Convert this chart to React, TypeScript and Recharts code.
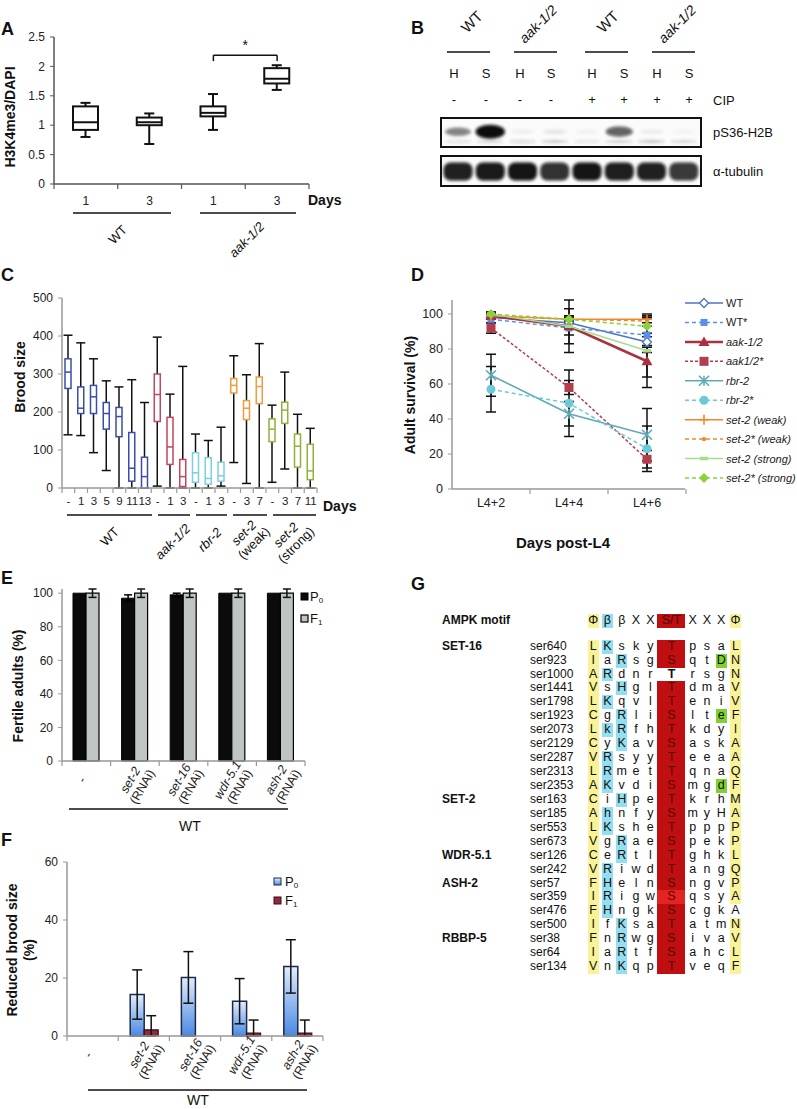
import React from "react";
import { ComposedChart, BarChart, LineChart, Bar, Line, XAxis, YAxis, ErrorBar, ReferenceLine } from "recharts";

const FONT = "'Liberation Sans', Arial, Helvetica, sans-serif";

// ---------- A: H3K4me3/DAPI ----------
const aDays = ["1", "3", "1", "3"];
const aMin = [0.8, 0.68, 0.92, 1.6];
const aQ1 = [0.92, 1.0, 1.15, 1.71];
const aMed = [1.05, 1.05, 1.21, 1.79];
const aQ3 = [1.32, 1.13, 1.32, 1.97];
const aMax = [1.38, 1.2, 1.53, 2.02];
const aTicks = [0, 0.5, 1, 1.5, 2, 2.5];

// ---------- B: western blot ----------
const bLanes = ["H", "S", "H", "S", "H", "S", "H", "S"];
const bCip = ["-", "-", "-", "-", "+", "+", "+", "+"];
const bH2B = [0.45, 1.0, 0.05, 0.08, 0.04, 0.62, 0.06, 0.03];
const bH2BLow = [0.12, 0.2, 0.18, 0.25, 0.1, 0.22, 0.28, 0.2];
const bTub = [0.92, 0.95, 0.97, 0.85, 0.97, 0.93, 0.92, 0.82];

// ---------- C: brood size ----------
const cDays = ["-", "1", "3", "5", "9", "11", "13", "-", "1", "3", "-", "1", "3", "-", "3", "7", "-", "3", "7", "11"];
const cGroupOf = [0, 0, 0, 0, 0, 0, 0, 1, 1, 1, 2, 2, 2, 3, 3, 3, 4, 4, 4, 4];
const cMin = [140, 138, 93, 46, 0, 0, 0, 5, 0, 0, 0, 0, 5, 67, 12, 0, 15, 50, 0, 0];
const cQ1 = [262, 196, 196, 155, 135, 18, 0, 175, 62, 4, 15, 10, 18, 250, 180, 222, 122, 170, 55, 22];
const cMed = [305, 210, 240, 196, 188, 52, 30, 246, 108, 30, 40, 25, 32, 270, 210, 267, 155, 205, 110, 45];
const cQ3 = [340, 266, 270, 225, 212, 146, 81, 300, 186, 75, 93, 80, 68, 288, 230, 292, 182, 226, 142, 115];
const cMax = [402, 382, 340, 282, 266, 285, 225, 397, 247, 320, 142, 125, 160, 348, 298, 380, 218, 305, 194, 157];
const cTicks = [0, 100, 200, 300, 400, 500];
const cGroupColors = ["#3b4da8", "#c4465a", "#7ccfdc", "#f39a3c", "#8db33b"];

// ---------- D: adult survival ----------
const dDays = ["L4+2", "L4+4", "L4+6"];
const dWT = [98, 95, 84];
const dWTErr = [1, 3, 3];
const dWTs = [97, 92, 88];
const dWTsErr = [2, 4, 10];
const dAak = [99, 93, 73];
const dAakErr = [2, 10, 9];
const dAaks = [92, 58, 17];
const dAaksErr = [3, 4, 5];
const dRbr = [65, 43, 31];
const dRbrErr = [12, 7, 15];
const dRbrs = [57, 49, 23];
const dRbrsErr = [13, 19, 13];
const dSetW = [99, 97, 97];
const dSetWErr = [1, 2, 2];
const dSetWs = [99, 97, 96];
const dSetWsErr = [1, 2, 3];
const dSetS = [100, 93, 79];
const dSetSErr = [1, 15, 21];
const dSetSs = [100, 97, 93];
const dSetSsErr = [1, 2, 4];
const dTicks = [0, 20, 40, 60, 80, 100];

// ---------- E: fertile adults ----------
const eCats = ["-", "set-2", "set-16", "wdr-5.1", "ash-2"];
const eP0 = [100, 97, 99, 100, 100];
const eP0Err = [0, 2, 1, 0, 0];
const eF1 = [100, 100, 100, 100, 100];
const eF1Err = [2.5, 2.5, 2.5, 2.5, 2.5];
const eTicks = [0, 20, 40, 60, 80, 100];

// ---------- F: reduced brood size ----------
const fCats = ["-", "set-2", "set-16", "wdr-5.1", "ash-2"];
const fP0 = [0, 14.3, 20.2, 12.0, 24.0];
const fP0Err = [3.5, 8.5, 8.9, 7.8, 9.2];
const fF1 = [0, 2.1, 0, 1.0, 1.0];
const fF1Err = [3.5, 4.9, 3.5, 4.5, 4.5];
const fTicks = [0, 20, 40, 60];

// ---------- G: AMPK motif alignment ----------
const gMotif = ["Φ", "β", "β", "X", "X", "S/T", "X", "X", "X", "Φ"];
const gSites = ["ser640", "ser923", "ser1000", "ser1441", "ser1798", "ser1923", "ser2073", "ser2129", "ser2287", "ser2313", "ser2353", "ser163", "ser185", "ser553", "ser673", "ser126", "ser242", "ser57", "ser359", "ser476", "ser500", "ser38", "ser64", "ser134"];
const gSeqs = ["LKskyTpsaL", "IaRsgSqtDN", "ARdnrTrsgN", "VsHglTdmaV", "LKqvlTeniV", "CgRliSlteF", "LkRfhTkdyI", "CyKavSaskA", "VRsyyTeeaA", "LRmetTqnaQ", "AKvdiSmgdF", "CiHpeTkrhM", "AhnfySmyHA", "LKsheTpppP", "VgRaeSpekP", "CeRtlTghkL", "VRiwdTangQ", "FHelnSngvP", "IRigwSqsyA", "FHngkScgkA", "IfKsaTatmN", "FnRwgSivaV", "IaRtfSahcL", "VnKqpTveqF"];
const gProteins = ["SET-16", "SET-2", "WDR-5.1", "ASH-2", "RBBP-5"];
const gProteinRow = [0, 11, 15, 17, 21];
const gGreenRows = [1, 5, 10];
const gNoSiteRows = [2];
const gBrightRows = [18];
const gNoEndRows = [19];

const AX = "#999";
const TXT = "#222";

function BoxMark(props: any) {
  const { x, y, width, height, payload, boxColor, whiskerColor, capW, lw } = props;
  if (typeof y !== "number" || typeof height !== "number" || !payload) return <g />;
  const top = Math.min(y, y + height);
  const h = Math.abs(height);
  const span = payload.max - payload.min || 1;
  const py = (v: number) => top + ((payload.max - v) / span) * h;
  const cx = x + width / 2;
  return (
    <g>
      <line x1={cx} x2={cx} y1={py(payload.max)} y2={py(payload.min)} stroke={whiskerColor} strokeWidth={lw} />
      <line x1={cx - capW / 2} x2={cx + capW / 2} y1={py(payload.max)} y2={py(payload.max)} stroke={whiskerColor} strokeWidth={lw} />
      <line x1={cx - capW / 2} x2={cx + capW / 2} y1={py(payload.min)} y2={py(payload.min)} stroke={whiskerColor} strokeWidth={lw} />
      <rect x={x} y={py(payload.q3)} width={width} height={Math.max(0, py(payload.q1) - py(payload.q3))} fill="#fff" stroke={boxColor} strokeWidth={lw} />
      <line x1={x} x2={x + width} y1={py(payload.med)} y2={py(payload.med)} stroke={boxColor} strokeWidth={lw} />
    </g>
  );
}

function CatTick(props: any) {
  const { x, y, payload, band, n, labels, color, dy, fontSize } = props;
  const i = payload?.index ?? props.index ?? 0;
  return (
    <g>
      <line x1={x - band / 2} x2={x - band / 2} y1={y} y2={y + 5} stroke={color} strokeWidth={1.2} />
      {i === n - 1 && <line x1={x + band / 2} x2={x + band / 2} y1={y} y2={y + 5} stroke={color} strokeWidth={1.2} />}
      <text x={x} y={y + dy} textAnchor="middle" fontSize={fontSize || 12} fill={TXT} fontFamily={FONT}>
        {labels[i]}
      </text>
    </g>
  );
}

function RnaiTick(props: any) {
  const { x, y, payload, band, n, labels } = props;
  const i = payload?.index ?? props.index ?? 0;
  const name = labels[i];
  const px = x - 1;
  const py = y + 21;
  return (
    <g>
      <line x1={x - band / 2} x2={x - band / 2} y1={y} y2={y + 5} stroke={AX} strokeWidth={1.2} />
      {i === n - 1 && <line x1={x + band / 2} x2={x + band / 2} y1={y} y2={y + 5} stroke={AX} strokeWidth={1.2} />}
      <text transform={`rotate(-60 ${px} ${py})`} x={px} y={py} textAnchor="middle" fontSize={12.5} fill={TXT} fontFamily={FONT}>
        <tspan fontStyle="italic">{name}</tspan>
        {name !== "-" && (
          <tspan x={px} dy="1.1em">
            (RNAi)
          </tspan>
        )}
      </text>
    </g>
  );
}

const yTick = { fontSize: 12, fill: TXT, fontFamily: FONT };

function PanelA() {
  const data = aDays.map((d, i) => ({ k: String(i), min: aMin[i], q1: aQ1[i], med: aMed[i], q3: aQ3[i], max: aMax[i] }));
  const band = 255 / 4;
  return (
    <div style={{ position: "absolute", left: 0, top: 0 }}>
      <ComposedChart width={320} height={215} data={data} margin={{ top: 37, right: 11, bottom: 1, left: 4 }}>
        <XAxis dataKey="k" height={30} interval={0} tickLine={false} tickSize={0} tickMargin={0} axisLine={{ stroke: "#555", strokeWidth: 1.5 }} tick={(p: any) => <CatTick {...p} band={band} n={4} labels={aDays} color="#555" dy={21} />} />
        <YAxis width={50} domain={[0, 2.5]} ticks={aTicks} interval={0} axisLine={{ stroke: "#555", strokeWidth: 1.5 }} tickLine={{ stroke: "#555" }} tickSize={4} tickMargin={5} tick={yTick} />
        <Bar dataKey={(d: any) => [d.min, d.max]} barSize={25} isAnimationActive={false} shape={(p: any) => <BoxMark {...p} boxColor="#111" whiskerColor="#111" capW={10} lw={2} />} />
        <ReferenceLine segment={[{ x: "2", y: 2.19 }, { x: "3", y: 2.19 }]} stroke="#111" strokeWidth={1.5} label={{ value: "*", position: "top", fontSize: 14, fill: "#111", fontFamily: FONT }} />
        <ReferenceLine segment={[{ x: "2", y: 2.19 }, { x: "2", y: 2.09 }]} stroke="#111" strokeWidth={1.5} />
        <ReferenceLine segment={[{ x: "3", y: 2.19 }, { x: "3", y: 2.09 }]} stroke="#111" strokeWidth={1.5} />
      </ComposedChart>
    </div>
  );
}

function blotShape(kind: "h2b" | "tub") {
  return (p: any) => {
    const cx = p.x + p.width / 2;
    const v = p.value as number;
    if (kind === "h2b") {
      const low = p.payload.low as number;
      return (
        <g filter="url(#blotBlur)">
          <ellipse cx={cx} cy={12.7} rx={p.width * (0.36 + 0.1 * v)} ry={2 + 5 * v} fill="#0a0a0a" opacity={Math.min(1, v * 1.05)} />
          <ellipse cx={cx} cy={22.5} rx={p.width * 0.42} ry={1.4} fill="#333" opacity={low} />
        </g>
      );
    }
    return (
      <g filter="url(#blotBlur)">
        <rect x={p.x + 1.5} y={5.5} width={p.width - 3} height={18} rx={7} fill="#0a0a0a" opacity={v} />
      </g>
    );
  };
}

function PanelB() {
  const h2bData = bLanes.map((l, i) => ({ k: String(i), h2b: bH2B[i], low: bH2BLow[i] }));
  const tubData = bLanes.map((l, i) => ({ k: String(i), tub: bTub[i] }));
  const box: React.CSSProperties = { position: "absolute", left: 440, width: 262, border: "2px solid #111", boxSizing: "border-box", background: "#fbfbfb" };
  return (
    <>
      <div style={{ ...box, top: 117, height: 31 }}>
        <BarChart width={258} height={27} data={h2bData} margin={{ top: 0, right: 0, bottom: 0, left: 0 }} barCategoryGap={0}>
          <XAxis dataKey="k" hide />
          <YAxis hide domain={[0, 1.2]} />
          <Bar dataKey="h2b" isAnimationActive={false} shape={blotShape("h2b")} />
        </BarChart>
      </div>
      <div style={{ ...box, top: 155, height: 32 }}>
        <BarChart width={258} height={28} data={tubData} margin={{ top: 0, right: 0, bottom: 0, left: 0 }} barCategoryGap={0}>
          <XAxis dataKey="k" hide />
          <YAxis hide domain={[0, 1.2]} />
          <Bar dataKey="tub" isAnimationActive={false} shape={blotShape("tub")} />
        </BarChart>
      </div>
    </>
  );
}

function PanelC() {
  const data = cDays.map((d, i) => ({ k: String(i), g: cGroupOf[i], min: cMin[i], q1: cQ1[i], med: cMed[i], q3: cQ3[i], max: cMax[i] }));
  const band = 255 / 20;
  return (
    <div style={{ position: "absolute", left: 0, top: 270 }}>
      <ComposedChart width={330} height={240} data={data} margin={{ top: 28, right: 13, bottom: 2, left: 2 }}>
        <XAxis dataKey="k" height={20} interval={0} tickLine={false} tickSize={0} tickMargin={0} axisLine={{ stroke: AX, strokeWidth: 1.5 }} tick={(p: any) => <CatTick {...p} band={band} n={20} labels={cDays} color={AX} dy={17} fontSize={11.5} />} />
        <YAxis width={60} domain={[0, 500]} ticks={cTicks} interval={0} axisLine={{ stroke: AX, strokeWidth: 1.5 }} tickLine={{ stroke: AX }} tickSize={4} tickMargin={5} tick={yTick} />
        <Bar dataKey={(d: any) => [d.min, d.max]} barSize={6} isAnimationActive={false} shape={(p: any) => <BoxMark {...p} boxColor={cGroupColors[p.payload?.g ?? 0]} whiskerColor="#111" capW={9} lw={1.5} />} />
      </ComposedChart>
    </div>
  );
}

const dStyles = [
  { name: "WT", vals: dWT, errs: dWTErr, color: "#4a74c9", dash: undefined, w: 1.5, mark: "diamondOpen", italic: false },
  { name: "WT*", vals: dWTs, errs: dWTsErr, color: "#5b8ee6", dash: "4 3", w: 1.5, mark: "square", italic: false },
  { name: "aak-1/2", vals: dAak, errs: dAakErr, color: "#a8323f", dash: undefined, w: 2.5, mark: "triangle", italic: true },
  { name: "aak1/2*", vals: dAaks, errs: dAaksErr, color: "#b33c4d", dash: "3 2", w: 1.5, mark: "squareBig", italic: true },
  { name: "rbr-2", vals: dRbr, errs: dRbrErr, color: "#5eaab4", dash: undefined, w: 1.5, mark: "x", italic: true },
  { name: "rbr-2*", vals: dRbrs, errs: dRbrsErr, color: "#6ccad8", dash: "4 3", w: 1.5, mark: "circle", italic: true },
  { name: "set-2 (weak)", vals: dSetW, errs: dSetWErr, color: "#f0892c", dash: undefined, w: 1.5, mark: "plus", italic: true },
  { name: "set-2* (weak)", vals: dSetWs, errs: dSetWsErr, color: "#f0892c", dash: "4 3", w: 1.5, mark: "dot", italic: true },
  { name: "set-2 (strong)", vals: dSetS, errs: dSetSErr, color: "#a9dc8e", dash: undefined, w: 1.5, mark: "dash", italic: true },
  { name: "set-2* (strong)", vals: dSetSs, errs: dSetSsErr, color: "#8bd23a", dash: "4 3", w: 1.5, mark: "diamond", italic: true },
];

function DotMark({ cx, cy, kind, color }: any) {
  if (cx == null || cy == null) return <g />;
  const dia = (r: number) => `M${cx} ${cy - r}L${cx + r} ${cy}L${cx} ${cy + r}L${cx - r} ${cy}Z`;
  switch (kind) {
    case "diamondOpen":
      return <path d={dia(4.5)} fill="#fff" stroke={color} strokeWidth={1.3} />;
    case "diamond":
      return <path d={dia(5)} fill={color} />;
    case "square":
      return <rect x={cx - 3.5} y={cy - 3.5} width={7} height={7} fill={color} />;
    case "squareBig":
      return <rect x={cx - 4.5} y={cy - 4.5} width={9} height={9} fill={color} />;
    case "triangle":
      return <path d={`M${cx} ${cy - 5.5}L${cx + 5.5} ${cy + 4}L${cx - 5.5} ${cy + 4}Z`} fill={color} />;
    case "x":
      return (
        <g stroke={color} strokeWidth={1.6}>
          <line x1={cx - 5} y1={cy - 5} x2={cx + 5} y2={cy + 5} />
          <line x1={cx - 5} y1={cy + 5} x2={cx + 5} y2={cy - 5} />
          <line x1={cx} y1={cy - 5} x2={cx} y2={cy + 5} />
        </g>
      );
    case "circle":
      return <circle cx={cx} cy={cy} r={4.5} fill={color} />;
    case "plus":
      return (
        <g stroke={color} strokeWidth={1.6}>
          <line x1={cx - 5} y1={cy} x2={cx + 5} y2={cy} />
          <line x1={cx} y1={cy - 5} x2={cx} y2={cy + 5} />
        </g>
      );
    case "dot":
      return <circle cx={cx} cy={cy} r={2.2} fill={color} />;
    case "dash":
      return <rect x={cx - 4} y={cy - 1.8} width={8} height={3.6} fill={color} />;
    default:
      return <g />;
  }
}

function PanelD() {
  const data = dDays.map((d, i) => {
    const row: any = { day: d };
    dStyles.forEach((s, j) => {
      row["s" + j] = s.vals[i];
      row["e" + j] = s.errs[i];
    });
    return row;
  });
  return (
    <div style={{ position: "absolute", left: 400, top: 270 }}>
      <LineChart width={290} height={245} data={data} margin={{ top: 30, right: 5, bottom: 1, left: 2 }}>
        <XAxis
          dataKey="day"
          height={25}
          padding={{ left: 39, right: 38 }}
          interval={0}
          tickLine={false}
          tickSize={0}
          tickMargin={0}
          axisLine={{ stroke: AX, strokeWidth: 1.5 }}
          tick={(p: any) => (
            <g>
              <line x1={p.x + 39} x2={p.x + 39} y1={p.y} y2={p.y + 5} stroke={AX} strokeWidth={1.2} />
              <text x={p.x} y={p.y + 18} textAnchor="middle" fontSize={12.5} fill={TXT} fontFamily={FONT}>
                {p.payload.value}
              </text>
            </g>
          )}
        />
        <YAxis width={50} domain={[0, 100]} ticks={dTicks} interval={0} axisLine={{ stroke: AX, strokeWidth: 1.5 }} tickLine={{ stroke: AX }} tickSize={4} tickMargin={5} tick={{ ...yTick, fontSize: 12.5 }} />
        {dStyles.map((s, j) => (
          <Line
            key={s.name}
            dataKey={"s" + j}
            stroke={s.color}
            strokeWidth={s.w}
            strokeDasharray={s.dash}
            isAnimationActive={false}
            dot={(p: any) => <DotMark key={p.index} cx={p.cx} cy={p.cy} kind={s.mark} color={s.color} />}
            activeDot={false}
          >
            <ErrorBar dataKey={"e" + j} width={5} stroke="#111" strokeWidth={1.5} />
          </Line>
        ))}
      </LineChart>
    </div>
  );
}

function LegendD() {
  const step = 19.44;
  return (
    <svg width={117} height={200} style={{ position: "absolute", left: 680, top: 290 }} fontFamily={FONT}>
      {dStyles.map((s, i) => {
        const y = 13 + i * step;
        return (
          <g key={s.name}>
            <line x1={5} x2={43} y1={y} y2={y} stroke={s.color} strokeWidth={s.w} strokeDasharray={s.dash} />
            <DotMark cx={24} cy={y} kind={s.mark} color={s.color} />
            <text x={46} y={y + 4} fontSize={11} fill={TXT} fontStyle={s.italic ? "italic" : "normal"}>
              {s.name}
            </text>
          </g>
        );
      })}
    </svg>
  );
}

function PanelE() {
  const data = eCats.map((c, i) => ({ k: String(i), p0: eP0[i], p0e: eP0Err[i], f1: eF1[i], f1e: eF1Err[i] }));
  const band = 243 / 5;
  return (
    <div style={{ position: "absolute", left: 0, top: 580 }}>
      <BarChart width={320} height={231} data={data} margin={{ top: 9, right: 15, bottom: 2, left: 2 }} barGap={0} barSize={13}>
        <XAxis dataKey="k" height={48} interval={0} tickLine={false} tickSize={0} tickMargin={0} axisLine={{ stroke: AX, strokeWidth: 1.5 }} tick={(p: any) => <RnaiTick {...p} band={band} n={5} labels={eCats} />} />
        <YAxis width={60} domain={[0, 100]} ticks={eTicks} interval={0} axisLine={{ stroke: AX, strokeWidth: 1.5 }} tickLine={{ stroke: AX }} tickSize={4} tickMargin={5} tick={yTick} />
        <Bar dataKey="p0" fill="#0b0b0b" stroke="#000" strokeWidth={1} isAnimationActive={false}>
          <ErrorBar dataKey="p0e" width={4} stroke="#000" strokeWidth={1.5} />
        </Bar>
        <Bar dataKey="f1" fill="#bfc5c5" stroke="#000" strokeWidth={1.2} isAnimationActive={false}>
          <ErrorBar dataKey="f1e" width={4} stroke="#111" strokeWidth={1.5} />
        </Bar>
      </BarChart>
    </div>
  );
}

function PanelF() {
  const data = fCats.map((c, i) => ({
    k: String(i),
    p0: fP0[i],
    p0e: [Math.min(fP0Err[i], fP0[i]), fP0Err[i]],
    f1: fF1[i],
    f1e: [Math.min(fF1Err[i], fF1[i]), fF1Err[i]],
  }));
  const band = 256 / 5;
  return (
    <div style={{ position: "absolute", left: 0, top: 850 }}>
      <BarChart width={335} height={240} data={data} margin={{ top: 12, right: 12, bottom: 2, left: 7 }} barGap={0} barSize={14}>
        <XAxis dataKey="k" height={52} interval={0} tickLine={false} tickSize={0} tickMargin={0} axisLine={{ stroke: AX, strokeWidth: 1.5 }} tick={(p: any) => <RnaiTick {...p} band={band} n={5} labels={fCats} />} />
        <YAxis width={60} domain={[0, 60]} ticks={fTicks} interval={0} axisLine={{ stroke: AX, strokeWidth: 1.5 }} tickLine={{ stroke: AX }} tickSize={4} tickMargin={5} tick={yTick} />
        <Bar dataKey="p0" fill="url(#p0Grad)" stroke="#1c2a48" strokeWidth={1.5} isAnimationActive={false}>
          <ErrorBar dataKey="p0e" width={5} stroke="#111" strokeWidth={1.5} />
        </Bar>
        <Bar dataKey="f1" fill="#8f2b3b" stroke="#3a0d14" strokeWidth={1.2} isAnimationActive={false}>
          <ErrorBar dataKey="f1e" width={5} stroke="#111" strokeWidth={1.5} />
        </Bar>
      </BarChart>
    </div>
  );
}

const G_COLW = [14.3, 14.3, 14.3, 14.3, 14.3, 28, 14.3, 14.3, 14.3, 14.3];
const G_ROWH = 13.93;
const YEL = "#f9f397";
const CYA = "#93def0";
const RED = "#c00f10";
const GRN = "#80d12c";

function GCell({ ch, w, bg, color, bold }: any) {
  return (
    <div
      style={{
        width: w,
        height: G_ROWH,
        padding: bg === RED || bg === "#e42420" ? 0 : "0 1.5px",
        boxSizing: "border-box",
        backgroundColor: bg || "transparent",
        backgroundClip: "content-box",
        textAlign: "center",
        lineHeight: G_ROWH + "px",
        fontSize: 12.5,
        color: color || "#111",
        fontWeight: bold ? "bold" : "normal",
        flex: "none",
        whiteSpace: "nowrap",
      }}
    >
      {ch}
    </div>
  );
}

function PanelG() {
  const headerBg = [YEL, CYA, "", "", "", RED, "", "", "", YEL];
  const lbl: React.CSSProperties = { position: "absolute", lineHeight: G_ROWH + "px", fontSize: 12, color: "#111", whiteSpace: "nowrap" };
  return (
    <div style={{ position: "absolute", left: 0, top: 0, width: 797, height: 1109, fontFamily: FONT }}>
      <div style={{ ...lbl, left: 442, top: 614, fontWeight: "bold" }}>AMPK motif</div>
      <div style={{ position: "absolute", left: 586, top: 614, display: "flex" }}>
        {gMotif.map((m, j) => (
          <GCell key={j} ch={m} w={G_COLW[j]} bg={headerBg[j]} color={j === 5 ? "#4a0000" : "#111"} />
        ))}
      </div>
      {gProteins.map((p, k) => (
        <div key={p} style={{ ...lbl, left: 442, top: 639.7 + gProteinRow[k] * G_ROWH, fontWeight: "bold" }}>
          {p}
        </div>
      ))}
      {gSites.map((site, i) => {
        const seq = gSeqs[i];
        const top = 639.7 + i * G_ROWH;
        return (
          <React.Fragment key={site}>
            <div style={{ ...lbl, left: 530, top }}>{site}</div>
            <div style={{ position: "absolute", left: 586, top, display: "flex" }}>
              {seq.split("").map((ch, j) => {
                let bg = "";
                let color = "#111";
                let bold = false;
                if (j === 0) bg = YEL;
                if (j === 9 && !gNoEndRows.includes(i)) bg = YEL;
                if ((j === 1 || j === 2) && "KRHkh".includes(ch)) bg = CYA;
                if (j === 5) {
                  if (gNoSiteRows.includes(i)) bold = true;
                  else {
                    bg = gBrightRows.includes(i) ? "#e42420" : RED;
                    color = "#5a0000";
                  }
                }
                if (j === 8 && gGreenRows.includes(i)) bg = GRN;
                return <GCell key={j} ch={ch} w={G_COLW[j]} bg={bg} color={color} bold={bold} />;
              })}
            </div>
          </React.Fragment>
        );
      })}
    </div>
  );
}

function Overlay() {
  const letter = { fontSize: 18, fontWeight: "bold" as const, fill: "#111" };
  const title = { fontSize: 14, fontWeight: "bold" as const, fill: "#111", textAnchor: "middle" as const };
  const grp = { fontSize: 13, fill: "#111", textAnchor: "middle" as const };
  const rot = (x: number, y: number, a = -45) => `rotate(${a} ${x} ${y})`;
  const laneX = [454, 486, 520, 551, 592, 624, 657, 689];
  return (
    <svg width={797} height={1109} style={{ position: "absolute", left: 0, top: 0, pointerEvents: "none" }} fontFamily={FONT}>
      <text x={1} y={35} {...letter}>A</text>
      <text x={411} y={34} {...letter}>B</text>
      <text x={1} y={281} {...letter}>C</text>
      <text x={411} y={281} {...letter}>D</text>
      <text x={1} y={584} {...letter}>E</text>
      <text x={1} y={846} {...letter}>F</text>
      <text x={411} y={590} {...letter}>G</text>

      {/* A */}
      <text transform="rotate(-90 15 117)" x={15} y={117} {...title}>H3K4me3/DAPI</text>
      <text x={308} y={205} fontSize={14} fontWeight="bold" fill="#111">Days</text>
      <line x1={73} x2={171} y1={213} y2={213} stroke="#111" strokeWidth={1.5} />
      <line x1={200} x2={296} y1={213} y2={213} stroke="#111" strokeWidth={1.5} />
      <text transform={rot(118, 235)} x={118} y={239} {...grp}>WT</text>
      <text transform={rot(247, 240)} x={247} y={244} {...grp} fontStyle="italic">aak-1/2</text>

      {/* B */}
      <text transform={rot(472, 22)} x={472} y={27} fontSize={15} fill="#111" textAnchor="middle">WT</text>
      <text transform={rot(538, 24)} x={538} y={29} fontSize={14} fill="#111" textAnchor="middle" fontStyle="italic">aak-1/2</text>
      <text transform={rot(608, 22)} x={608} y={27} fontSize={15} fill="#111" textAnchor="middle">WT</text>
      <text transform={rot(677, 24)} x={677} y={29} fontSize={14} fill="#111" textAnchor="middle" fontStyle="italic">aak-1/2</text>
      {[[447, 490], [514, 557], [585, 628], [652, 695]].map(([a, b]) => (
        <line key={a} x1={a} x2={b} y1={52} y2={52} stroke="#111" strokeWidth={1.5} />
      ))}
      {bLanes.map((l, i) => (
        <text key={"l" + i} x={laneX[i]} y={78} fontSize={13} fill="#111" textAnchor="middle">{l}</text>
      ))}
      {bCip.map((c, i) => (
        <text key={"c" + i} x={laneX[i]} y={104} fontSize={13} fill="#111" textAnchor="middle">{c}</text>
      ))}
      <text x={713} y={105} fontSize={13} fill="#111">CIP</text>
      <text x={713} y={137} fontSize={13} fill="#111">pS36-H2B</text>
      <text x={713} y={176} fontSize={13} fill="#111">α-tubulin</text>

      {/* C */}
      <text transform="rotate(-90 25 377)" x={25} y={377} {...title}>Brood size</text>
      <text x={323} y={511} fontSize={14} fontWeight="bold" fill="#111">Days</text>
      {[[67, 152], [158, 190], [196, 227], [233, 267], [273, 316]].map(([a, b]) => (
        <line key={a} x1={a} x2={b} y1={515} y2={515} stroke="#111" strokeWidth={1.5} />
      ))}
      <text transform={rot(110, 537)} x={110} y={541} {...grp}>WT</text>
      <text transform={rot(173, 542)} x={173} y={546} {...grp} fontStyle="italic">aak-1/2</text>
      <text transform={rot(210, 540)} x={210} y={544} {...grp} fontStyle="italic">rbr-2</text>
      <text transform={rot(247, 536)} x={247} y={536} {...grp}>
        <tspan fontStyle="italic">set-2</tspan>
        <tspan x={247} dy="1.1em">(weak)</tspan>
      </text>
      <text transform={rot(289, 538)} x={289} y={538} {...grp}>
        <tspan fontStyle="italic">set-2</tspan>
        <tspan x={289} dy="1.1em">(strong)</tspan>
      </text>

      {/* D */}
      <text transform="rotate(-90 415 395)" x={415} y={395} {...title}>Adult survival (%)</text>
      <text x={563} y={548} fontSize={15} fontWeight="bold" fill="#111" textAnchor="middle">Days post-L4</text>

      {/* E */}
      <text transform="rotate(-90 23 686)" x={23} y={686} {...title}>Fertile adults (%)</text>
      <rect x={301} y={593} width={7} height={7} fill="#0b0b0b" stroke="#000" />
      <text x={310} y={601} fontSize={13} fill="#111">P<tspan fontSize={8} dy={2}>0</tspan></text>
      <rect x={301} y={615} width={7} height={7} fill="#bfc5c5" stroke="#000" strokeWidth={1.2} />
      <text x={310} y={623} fontSize={13} fill="#111">F<tspan fontSize={8} dy={2}>1</tspan></text>
      <line x1={69} x2={288} y1={809} y2={809} stroke="#111" strokeWidth={1.5} />
      <text x={190} y={831} fontSize={14} fill="#111" textAnchor="middle">WT</text>

      {/* F */}
      <text transform="rotate(-90 17 950)" x={17} y={950} {...title}>Reduced brood size</text>
      <text transform="rotate(-90 34 950)" x={34} y={950} {...title}>(%)</text>
      <rect x={274} y={878} width={7} height={7} fill="url(#p0Grad)" stroke="#1c2a48" />
      <text x={285} y={886} fontSize={13} fill="#111">P<tspan fontSize={8} dy={2}>0</tspan></text>
      <rect x={274} y={897} width={7} height={7} fill="#8f2b3b" stroke="#3a0d14" />
      <text x={285} y={905} fontSize={13} fill="#111">F<tspan fontSize={8} dy={2}>1</tspan></text>
      <line x1={88} x2={307} y1={1090} y2={1090} stroke="#111" strokeWidth={1.5} />
      <text x={198} y={1105} fontSize={14} fill="#111" textAnchor="middle">WT</text>
    </svg>
  );
}

export default function App() {
  return (
    <div style={{ position: "absolute", left: 0, top: 0, width: 797, height: 1109, background: "#fff", fontFamily: FONT, overflow: "hidden" }}>
      <svg width={0} height={0} style={{ position: "absolute" }}>
        <defs>
          <filter id="blotBlur" x="-50%" y="-80%" width="200%" height="260%">
            <feGaussianBlur stdDeviation="1.5" />
          </filter>
          <linearGradient id="p0Grad" x1="0" y1="0" x2="0" y2="1">
            <stop offset="0%" stopColor="#e2edfb" />
            <stop offset="100%" stopColor="#4a88e2" />
          </linearGradient>
        </defs>
      </svg>
      <PanelA />
      <PanelB />
      <PanelC />
      <PanelD />
      <LegendD />
      <PanelE />
      <PanelF />
      <PanelG />
      <Overlay />
    </div>
  );
}
